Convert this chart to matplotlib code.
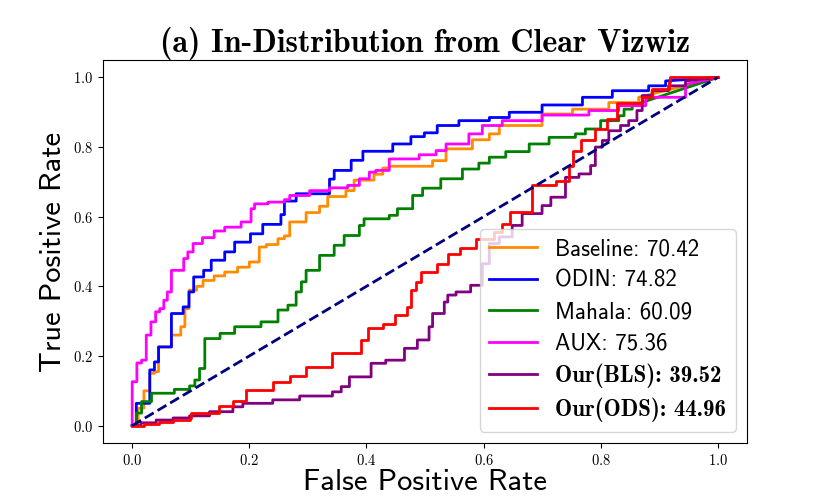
import matplotlib
matplotlib.use('Agg')
import matplotlib.pyplot as plt

plt.rcParams['font.family'] = 'cmr10'
plt.rcParams['axes.formatter.use_mathtext'] = True
plt.rcParams['mathtext.fontset'] = 'cm'

# ROC knots: (fpr, tpr) at the top of each riser
base_fpr = [0, .010, .020, .030, .038, .045, .067, .083, .090, .097, .110, .121, .140, .158, .180, .200, .217, .229, .249, .260, .269, .297, .320, .334, .365, .379, .413, .428, .439, .513, .536, .581, .610, .627, .700, .752, .814, .865, 1.0]
base_tpr = [0, .050, .100, .150, .155, .226, .260, .284, .336, .389, .400, .417, .430, .441, .455, .470, .513, .520, .537, .545, .585, .612, .630, .658, .675, .705, .722, .740, .745, .761, .795, .821, .838, .862, .895, .909, .928, .943, 1.0]

odin_fpr = [0, .007, .030, .038, .045, .067, .087, .097, .105, .122, .135, .158, .175, .202, .223, .254, .260, .280, .337, .345, .374, .394, .445, .476, .499, .521, .558, .610, .644, .700, .769, .820, .882, .911, 1.0]
odin_tpr = [0, .064, .160, .183, .226, .322, .341, .384, .427, .446, .475, .499, .527, .551, .578, .606, .645, .666, .708, .733, .762, .788, .809, .830, .841, .862, .876, .885, .900, .921, .943, .962, .976, .990, 1.0]

maha_fpr = [0, .007, .016, .033, .072, .098, .107, .115, .124, .150, .175, .220, .249, .266, .280, .289, .297, .320, .345, .362, .388, .396, .439, .453, .479, .496, .527, .564, .592, .610, .638, .678, .712, .757, .774, .800, .831, .840, .854, 1.0]
maha_tpr = [0, .036, .069, .093, .104, .114, .131, .164, .250, .265, .284, .298, .332, .346, .384, .413, .446, .489, .518, .546, .575, .594, .604, .623, .661, .682, .709, .737, .754, .771, .787, .809, .828, .838, .852, .876, .890, .909, .919, 1.0]

aux_fpr = [0, 0, .008, .016, .024, .032, .040, .047, .054, .060, .067, .088, .095, .104, .120, .140, .158, .186, .203, .209, .232, .260, .269, .303, .337, .368, .388, .405, .416, .439, .490, .519, .536, .575, .598, .632, .700, .780, .831, .877, .945, 1.0]
aux_tpr = [0, .126, .180, .188, .260, .298, .327, .336, .360, .384, .446, .480, .499, .523, .540, .559, .570, .585, .623, .637, .642, .649, .661, .675, .683, .690, .709, .728, .733, .766, .778, .790, .809, .838, .862, .876, .892, .905, .919, .943, .980, 1.0]

bls_fpr = [0, .015, .041, .070, .098, .132, .172, .189, .240, .286, .342, .357, .371, .408, .433, .465, .487, .507, .513, .533, .539, .553, .578, .598, .610, .627, .649, .666, .700, .715, .740, .763, .783, .791, .803, .814, .834, .848, .862, .871, .888, .916, .945, 1.0]
bls_tpr = [0, .008, .016, .022, .028, .040, .054, .064, .074, .085, .097, .112, .140, .179, .188, .222, .246, .284, .322, .355, .375, .384, .403, .465, .523, .542, .575, .609, .632, .656, .713, .723, .747, .800, .819, .847, .862, .876, .905, .948, .962, .976, .990, 1.0]

ods_fpr = [0, .020, .045, .070, .098, .101, .149, .172, .195, .240, .269, .297, .342, .391, .402, .428, .448, .470, .476, .485, .493, .521, .539, .560, .587, .618, .632, .646, .683, .723, .746, .752, .766, .791, .811, .828, .871, .888, .916, .919, 1.0]
ods_tpr = [0, .005, .010, .015, .021, .037, .056, .072, .102, .126, .142, .167, .210, .246, .279, .291, .317, .341, .389, .413, .441, .465, .492, .510, .537, .556, .580, .613, .690, .704, .747, .790, .819, .852, .881, .928, .943, .967, .986, 1.0, 1.0]

labels = ['Baseline: 70.42', 'ODIN: 74.82', 'Mahala: 60.09', 'AUX: 75.36',
          'Our(BLS): 39.52', 'Our(ODS): 44.96']
colors = ['darkorange', 'blue', 'green', 'magenta', 'purple', 'red']


def roc_path(fpr, tpr):
    # staircase through the knots, last knot joined with a straight line
    xs, ys = [fpr[0]], [tpr[0]]
    for i in range(1, len(fpr) - 1):
        xs += [fpr[i], fpr[i]]
        ys += [tpr[i - 1], tpr[i]]
    xs.append(fpr[-1])
    ys.append(tpr[-1])
    return xs, ys


fig = plt.figure(figsize=(8.3, 4.98), dpi=100)
ax = fig.add_axes([0.124, 0.1104, 0.776, 0.769])

curves = [(base_fpr, base_tpr), (odin_fpr, odin_tpr), (maha_fpr, maha_tpr),
          (aux_fpr, aux_tpr), (bls_fpr, bls_tpr), (ods_fpr, ods_tpr)]
for (f, t), lab, c in zip(curves, labels, colors):
    xs, ys = roc_path(f, t)
    ax.plot(xs, ys, color=c, lw=2, label=lab)

ax.plot([0, 1], [0, 1], color='navy', lw=2, linestyle='--')

ax.set_xticks([0, 0.2, 0.4, 0.6, 0.8, 1.0])
ax.set_yticks([0, 0.2, 0.4, 0.6, 0.8, 1.0])
ax.tick_params(labelsize=10.5)
ax.set_xlabel('False Positive Rate', family='cmss10', fontsize=22, labelpad=1)
ax.set_ylabel('True Positive Rate', family='cmss10', fontsize=22, labelpad=4)
ax.set_title('(a) In-Distribution from Clear Vizwiz', family='cmb10', fontsize=23, pad=5)

leg = ax.legend(loc='lower right', handlelength=2.1, handletextpad=0.8,
                labelspacing=0.41, prop={'family': 'cmss10', 'size': 16.5})
for t in leg.get_texts()[4:]:
    t.set_fontfamily('cmb10')

plt.savefig('out.png', dpi=100)
